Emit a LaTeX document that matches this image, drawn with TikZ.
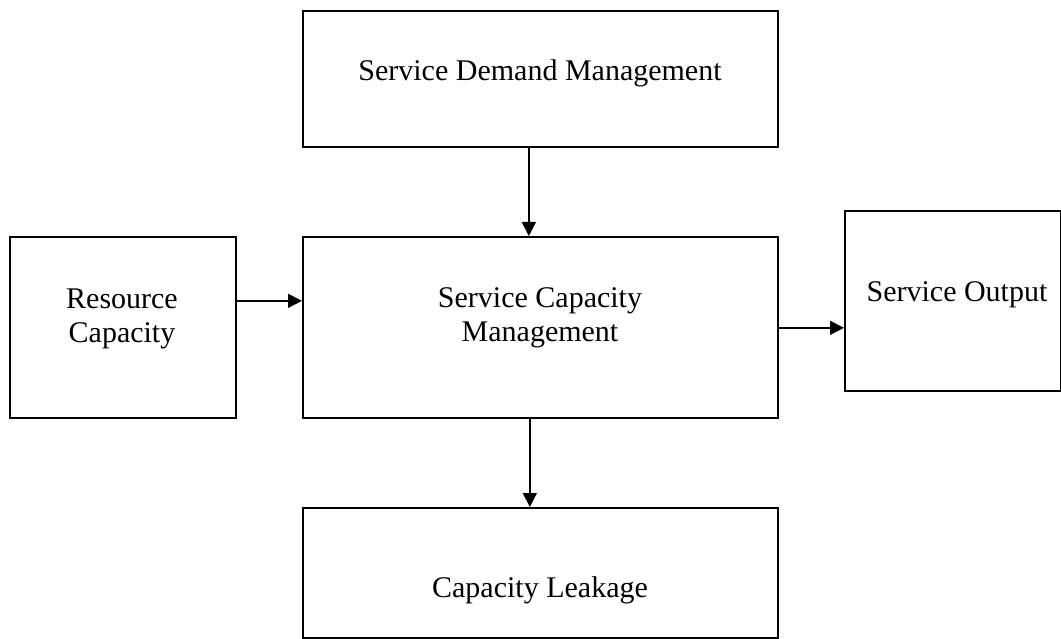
\documentclass[tikz,border=0pt]{standalone}
\usepackage{fontspec}
\setmainfont{Liberation Serif}
\usetikzlibrary{arrows.meta}

\tikzset{
  box/.style={draw=black, line width=1.7pt, rectangle, inner sep=0pt, anchor=north west},
  lbl/.style={font=\fontsize{30pt}{34pt}\selectfont, align=center, inner sep=0pt, anchor=center},
  arr/.style={draw=black, line width=1.5pt, -{Triangle[length=14pt,width=14pt]}}
}

\begin{document}
\begin{tikzpicture}[x=1pt,y=-1pt]
  \useasboundingbox[fill=white] (0,0) rectangle (1061,639);

  % boxes
  \node[box, minimum width=475pt, minimum height=136pt] (demand)   at (302,10)  {};
  \node[box, minimum width=226pt, minimum height=181pt] (resource) at (9,236)   {};
  \node[box, minimum width=475pt, minimum height=181pt] (scm)      at (302,236) {};
  \node[box, minimum width=216pt, minimum height=180pt] (output)   at (844,210) {};
  \node[box, minimum width=475pt, minimum height=130pt] (leak)     at (302,507) {};

  % labels
  \node[lbl] (demandtxt)   at (540,73.5) {Service Demand Management};
  \node[lbl] (resourcetxt) at (122,318.5) {Resource\\Capacity};
  \node[lbl] (scmtxt)      at (540,318) {Service Capacity\\Management};
  \node[lbl] (outputtxt)   at (957,295) {Service Output};
  \node[lbl] (leaktxt)     at (540,590) {Capacity Leakage};

  % connectors
  \draw[arr] ([xshift=-11.5pt]demand.south) -- ([xshift=-11.5pt]scm.north);
  \draw[arr] ([yshift=26.5pt]resource.east) -- ([yshift=26.5pt]resource.east -| scm.west);
  \draw[arr] ([yshift=-0.5pt]scm.east) -- ([yshift=-0.5pt]scm.east -| output.west);
  \draw[arr] ([xshift=-10.5pt]scm.south) -- ([xshift=-10.5pt]leak.north);
\end{tikzpicture}
\end{document}
